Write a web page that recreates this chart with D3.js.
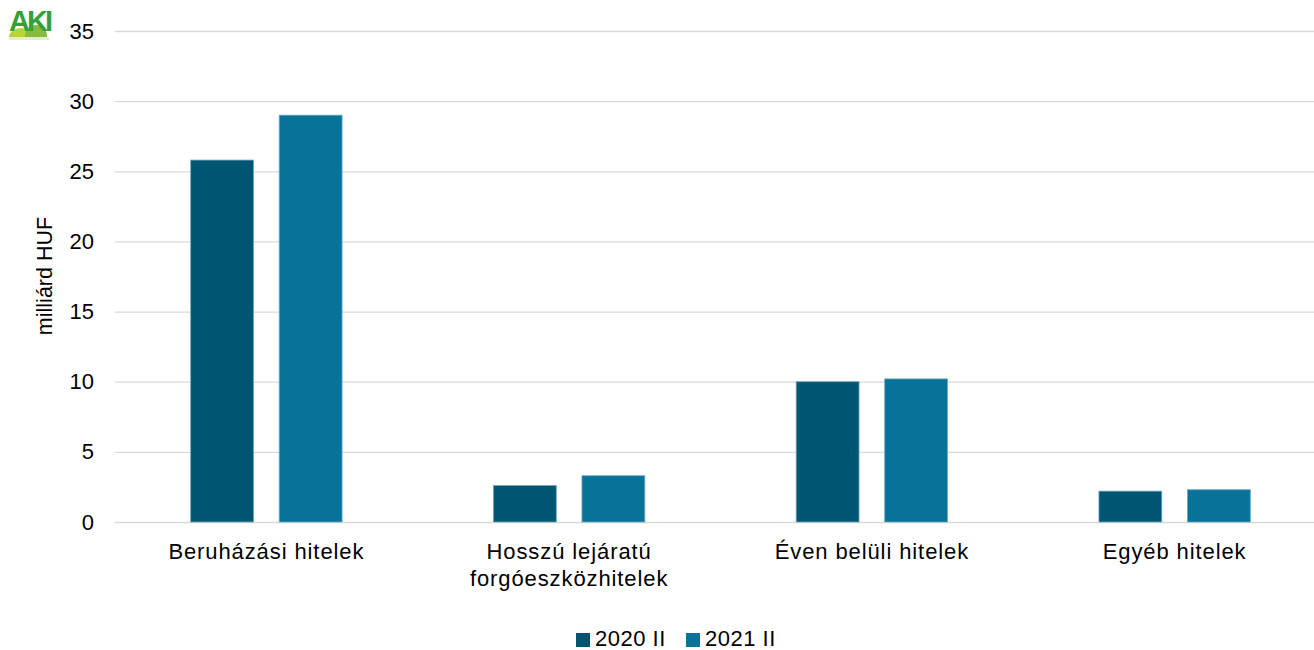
<!DOCTYPE html>
<html><head><meta charset="utf-8">
<script src="https://cdn.jsdelivr.net/npm/d3@7"></script>
<style>body{margin:0;background:#fff;} text{font-family:"Liberation Sans",Arial,sans-serif;fill:#000;}</style>
</head><body>
<svg id="c" width="1314" height="650"></svg>
<script>
const categories = [["Beruházási hitelek"], ["Hosszú lejáratú", "forgóeszközhitelek"], ["Éven belüli hitelek"], ["Egyéb hitelek"]];
const seriesNames = ["2020 II", "2021 II"];
const values2020 = [25.8, 2.6, 10.0, 2.2];
const values2021 = [29.0, 3.3, 10.2, 2.3];
const yTicks = [0, 5, 10, 15, 20, 25, 30, 35];
const colors = ["#005672", "#087398"];
const yTitle = "milliárd HUF";

const svg = d3.select("#c");
const L = 115, R = 1314, T = 31, B = 522;
const x0 = d3.scaleBand().domain(d3.range(categories.length)).range([L, 1326]).paddingInner(0.5).paddingOuter(0.25);
const x1 = d3.scaleBand().domain(seriesNames).range([0, x0.bandwidth()]).paddingInner(0.29);
const y = d3.scaleLinear().domain([0, 35]).range([B, T]);

// grid
const yAxis = d3.axisLeft(y).tickValues(yTicks).tickSize(-(R - L)).tickPadding(21);
const ga = svg.append("g").attr("transform", `translate(${L},0)`).call(yAxis);
ga.select(".domain").remove();
ga.selectAll(".tick line").attr("stroke", "#d9d9d9").attr("stroke-width", 1.3);
ga.selectAll(".tick text").style("font-size", "22px").attr("fill", "#000");

const data = [values2020, values2021];
seriesNames.forEach((s, si) => {
  svg.append("g").selectAll("rect").data(data[si]).join("rect")
    .attr("x", (d, i) => x0(i) + x1(s))
    .attr("y", d => y(d))
    .attr("width", x1.bandwidth())
    .attr("height", d => B - y(d))
    .attr("fill", colors[si])
    .attr("stroke", "#6fa8bf").attr("stroke-width", 0.8);
});

// category labels
categories.forEach((lines, i) => {
  const cx = x0(i) + x0.bandwidth() / 2;
  const t = svg.append("text").attr("text-anchor", "middle")
    .attr("x", cx).attr("y", 559).style("font-size", "22px").style("letter-spacing", "0.9px");
  lines.forEach((ln, k) => t.append("tspan").attr("x", cx).attr("dy", k === 0 ? 0 : 27).text(ln));
});

// y title
svg.append("text").attr("transform", "translate(52,276) rotate(-90)").attr("text-anchor", "middle")
  .style("font-size", "21.5px").text(yTitle);

// legend
const legX = [576, 686];
seriesNames.forEach((s, i) => {
  svg.append("rect").attr("x", legX[i]).attr("y", 633).attr("width", 14).attr("height", 14).attr("fill", colors[i]);
  svg.append("text").attr("x", legX[i] + 19).attr("y", 646).style("font-size", "22px").style("letter-spacing", "0.5px").text(s);
});

// logo
const lg = svg.append("g");
lg.append("clipPath").attr("id", "hc").append("rect").attr("x", 0).attr("y", 0).attr("width", 70).attr("height", 37);
const hills = lg.append("g").attr("clip-path", "url(#hc)");
hills.append("ellipse").attr("cx", 21).attr("cy", 37).attr("rx", 12).attr("ry", 9).attr("fill", "#b8d240");
hills.append("ellipse").attr("cx", 36).attr("cy", 36).attr("rx", 11).attr("ry", 11).attr("fill", "#86bb3f");
lg.append("rect").attr("x", 9).attr("y", 37).attr("width", 40).attr("height", 3).attr("fill", "#e4efc6");
lg.append("text").attr("x", 9).attr("y", 31).style("font-size", "29px").style("font-weight", "bold")
  .style("letter-spacing", "-3px").style("fill", "#36a036").text("AKI");
</script>
</body></html>
